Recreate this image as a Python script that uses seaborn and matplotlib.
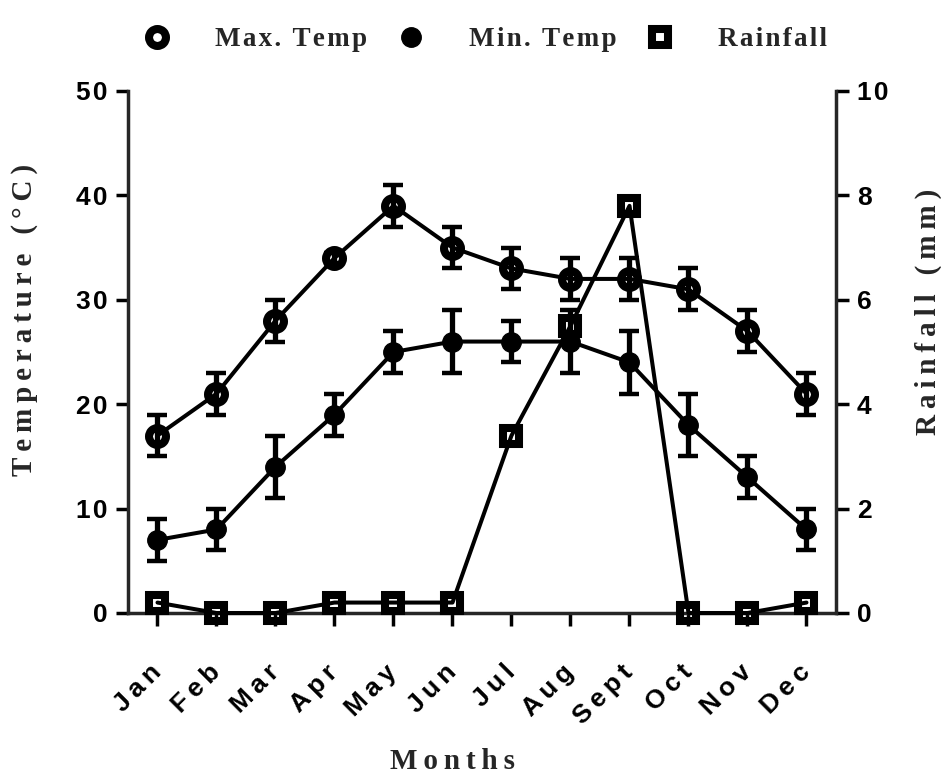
import matplotlib
matplotlib.use("Agg")
import matplotlib.pyplot as plt
from matplotlib.lines import Line2D
import seaborn as sns
import pandas as pd

# Monthly climate record
months = ["Jan", "Feb", "Mar", "Apr", "May", "Jun", "Jul", "Aug", "Sept", "Oct", "Nov", "Dec"]
max_temp = [17, 21, 28, 34, 39, 35, 33, 32, 32, 31, 27, 21]
max_temp_sd = [2, 2, 2, 0.5, 2, 2, 2, 2, 2, 2, 2, 2]
min_temp = [7, 8, 14, 19, 25, 26, 26, 26, 24, 18, 13, 8]
min_temp_sd = [2, 2, 3, 2, 2, 3, 2, 3, 3, 3, 2, 2]
rainfall = [0.2, 0, 0, 0.2, 0.2, 0.2, 3.4, 5.5, 7.8, 0, 0, 0.2]
temp_ticks = [0, 10, 20, 30, 40, 50]
rain_ticks = [0, 2, 4, 6, 8, 10]

HAIR = "\u200a"
THIN = "\u2009"


def spread(text, gap=HAIR):
    return gap.join(text)


df = pd.DataFrame({
    "pos": range(len(months)),
    "month": months,
    "max_temp": max_temp,
    "max_sd": max_temp_sd,
    "min_temp": min_temp,
    "min_sd": min_temp_sd,
    "rain": rainfall,
})

sns.set_theme(style="ticks")
plt.rcParams["font.family"] = ["Liberation Sans", "DejaVu Sans"]

fig = plt.figure(figsize=(9.41, 7.83), dpi=100)
ax = fig.add_axes([128 / 941, 1 - 613 / 783, (836 - 128) / 941, (613 - 91) / 783])
ax2 = ax.twinx()

LW = 2.9
SPINE = 2.5
open_ring = dict(markersize=12.2, markeredgewidth=5.8, markeredgecolor="black",
                 markerfacecolor="none")
solid_dot = dict(markersize=14, markeredgewidth=1, markeredgecolor="black",
                 markerfacecolor="black")
open_box = dict(markersize=12.2, markeredgewidth=5.8, markeredgecolor="black",
                markerfacecolor="none")
eb = dict(fmt="none", ecolor="black", elinewidth=3.8, capsize=7.5, capthick=3.2, zorder=2)

# Temperature series with error bars
ax.errorbar(df["pos"], df["max_temp"], yerr=df["max_sd"], **eb)
ax.errorbar(df["pos"], df["min_temp"], yerr=df["min_sd"], **eb)
sns.lineplot(data=df, x="pos", y="max_temp", ax=ax, color="black", linewidth=LW,
             marker="o", zorder=3, **open_ring)
sns.lineplot(data=df, x="pos", y="min_temp", ax=ax, color="black", linewidth=LW,
             marker="o", zorder=3, **solid_dot)

# Rainfall on the secondary axis
sns.lineplot(data=df, x="pos", y="rain", ax=ax2, color="black", linewidth=LW,
             marker="s", zorder=3, clip_on=False, **open_box)

ax.set_xlim(-0.5, 11.5)
ax.set_ylim(0, 50)
ax2.set_ylim(0, 10)

ax.spines["top"].set_visible(False)
ax.spines["right"].set_visible(False)
ax2.spines["top"].set_visible(False)
ax2.spines["left"].set_visible(False)
ax2.spines["bottom"].set_visible(False)
for sp in ("left", "bottom"):
    ax.spines[sp].set_linewidth(SPINE)
ax2.spines["right"].set_linewidth(SPINE)

tick_font = dict(family=["Liberation Sans", "DejaVu Sans"], weight="bold", size=19)

ax.set_xticks(df["pos"])
ax.set_xticklabels([spread(m, THIN) for m in months], rotation=45, ha="right",
                   va="center", rotation_mode="anchor", fontdict=tick_font)
ax.set_yticks(temp_ticks)
ax.set_yticklabels([spread(str(t)) for t in temp_ticks], fontdict=tick_font)
ax2.set_yticks(rain_ticks)
ax2.set_yticklabels([spread(str(t)) for t in rain_ticks], fontdict=tick_font)

ax.tick_params(axis="both", direction="out", length=9, width=SPINE, colors="black", pad=6)
ax.tick_params(axis="x", pad=31)
ax2.tick_params(axis="y", direction="out", length=9, width=SPINE, colors="black", pad=6)

title_font = dict(family=["Liberation Serif", "DejaVu Serif"], weight="bold", size=21)
ax.set_xlabel(spread("Months", THIN), fontdict=title_font)
ax.set_ylabel(spread("Temperature (°C)", THIN), fontdict=title_font)
ax2.set_ylabel(spread("Rainfall (mm)", THIN), fontdict=title_font)
for lab in (ax.xaxis.label, ax.yaxis.label, ax2.yaxis.label):
    lab.set_verticalalignment("center")
    lab.set_horizontalalignment("center")
ax2.yaxis.label.set_rotation(90)
ax.xaxis.set_label_coords(0.459, -0.285)
ax.yaxis.set_label_coords(-0.146, 0.561)
ax2.yaxis.set_label_coords(1.131, 0.577)

# Marker key above the plot
handles = [
    Line2D([], [], linestyle="none", marker="o", **open_ring),
    Line2D([], [], linestyle="none", marker="o", **solid_dot),
    Line2D([], [], linestyle="none", marker="s", **open_box),
]
labels = [spread("Max. Temp"), spread("Min. Temp"), spread("Rainfall")]
fig.legend(handles, labels, loc="center left", bbox_to_anchor=(0.112, 0.949),
           ncol=3, frameon=False, handletextpad=1.15, columnspacing=0.6,
           prop=dict(family=["Liberation Serif", "DejaVu Serif"], weight="bold", size=19.5))

fig.savefig("out.png", dpi=100, facecolor="white")
